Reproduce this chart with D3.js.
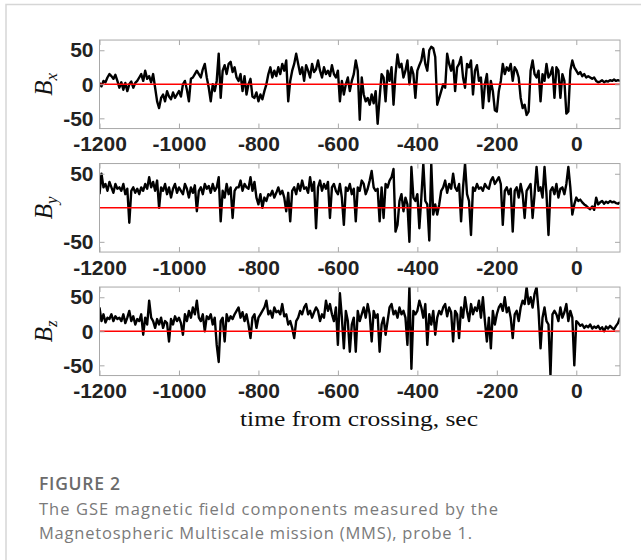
<!DOCTYPE html>
<html>
<head>
<meta charset="utf-8">
<script src="https://cdn.jsdelivr.net/npm/d3@7"></script>
<style>
  body { margin: 0; background: #fff; }
  svg { display: block; }
</style>
</head>
<body>
<div id="vis"></div>
<script>
// muestras cada 5 s desde -1200 s (nT)
const T0 = -1200;
const DT = 5;

const BX = [
  2, -3, 5, 3, 10, 15, 12, 8, 14, 5,
  -5, 3, -8, 2, -10, 0, 4, -5, 2, 5,
  10, 15, 5, 20, 8, 12, 3, 15, -5, -25,
  -35, -20, -15, -25, -10, -18, -22, -12, -20, -15,
  -10, -18, 0, 5, -8, -25, 8, 10, 15, 20,
  15, 10, 22, 30, 10, -5, -25, 0, -10, 5,
  45, -20, 20, 28, 15, 30, 33, 18, 25, 10,
  5, 15, -10, 12, -15, 0, 8, -18, -20, -12,
  -25, -15, -22, -10, 0, 15, 25, 10, 20, 12,
  25, 15, 30, 20, 35, -25, 5, 20, 30, 45,
  30, 15, 25, 5, 28, 20, 10, 30, 18, 22,
  35, 20, 10, 25, 15, 20, 12, 28, 15, 10,
  20, -25, 5, -15, 0, 10, -10, 5, 15, 35,
  20, -52, 10, -15, -25, -20, -30, -15, -28, -10,
  -58, -20, 15, 10, -25, 20, 5, 25, -30, 15,
  44, 25, 30, 10, 20, 35, 0, 25, 15, -20,
  20, 28, 35, 52, 30, 20, 50, 55, 53, 40,
  -30, -20, -10, 0, -5, 45, 30, 20, 35, -10,
  25, 30, 40, 10, -5, 30, 25, 35, -15, 20,
  28, 5, 10, -35, 0, 15, -25, 5, -10, -38,
  -40, -10, 5, 30, 15, 25, 20, 30, 5, 25,
  20, 10, -20, -35, -30, -45, -40, 20, 35, 15,
  10, 20, -25, 15, 5, 30, 10, 15, 25, -20,
  25, 20, -20, 15, 5, -43, -40, 20, 35, 25,
  20, 15, 18, 12, 15, 10, 12, 10, 8, 10,
  5, 3, 4, 6, 3, 5, 4, 6, 5, 7,
  5, 6, 5
];

const BY = [
  20, 50, 30, 35, 25, 38, 30, 22, 35, 28,
  30, 25, 35, 20, 28, -22, 25, 30, 22, 28,
  20, 30, 25, 35, 28, 45, 30, 38, 25, 40,
  0, 30, 25, 35, 20, 30, 15, 28, 35, 22,
  30, 25, 20, 35, 28, 15, 30, 22, 33, -5,
  25, 30, 20, 35, 28, 32, 22, 35, 25, 30,
  45, -20, 25, 15, 35, 20, 30, -15, 25, 30,
  30, 40, 25, 35, 30, 28, 45, 25, 38, 15,
  5, 20, 0, 15, 10, 20, 18, 25, 15, 22,
  30, 20, 25, 15, -5, 22, -20, 25, 30, 20,
  35, 25, 40, 28, 30, 22, 45, 25, 38, -30,
  30, 40, 25, 35, 28, 38, -15, 30, 35, 25,
  20, 35, 15, -25, 30, 25, 35, 20, 28, -20,
  30, 25, 40, 35, 20, 28, 40, 54, 30, 25,
  28, -20, 30, -15, 35, 30, 40, 45, 57, -35,
  -25, 10, 20, -5, 15, 5, -50, 60, 15, 10,
  20, -30, 15, 65, 10, 5, -48, 65, -10, 5,
  -10, 5, 25, 30, 40, 22, 35, 28, 50, 30,
  25, 35, -20, 30, 65, 20, 10, -40, 30, 25,
  35, 28, 30, 25, 35, 30, 28, 40, 45, 35,
  40, 45, 35, -25, 25, 30, 20, 28, -35, 25,
  30, 15, 35, 20, -15, 25, 30, 35, -15, 20,
  60, 25, 30, 15, 60, 20, -40, 25, 30, 20,
  35, 15, 28, 30, 20, 35, 60, 30, -10, 5,
  15, 10, 12, 8, 5, 3, 0, -2, 2, -3,
  15, 5, 8, 10, 6, 9, 7, 10, 8, 9,
  7, 6, 8
];

const BZ = [
  35, 15, 25, 13, 20, 18, 25, 15, 22, 18,
  20, 15, 25, 12, 20, 30, 15, 22, 10, 18,
  15, 25, -5, 20, 10, 45, 20, 15, 5, 18,
  10, 20, 5, 15, 12, -15, 18, 10, 22, 15,
  20, 12, -5, 25, 15, 30, 20, 35, 25, 45,
  20, 15, 25, 0, 22, 18, 25, 10, 20, -20,
  -45, 15, 20, -15, 25, 15, 22, 18, 25, 30,
  35, 20, 28, 15, 25, 10, -10, 20, 25, 5,
  20, 25, 30, 35, 45, 25, 30, 20, 35, 28,
  30, 25, 40, 22, 25, 10, 15, 5, -10, 15,
  20, 30, 25, 35, 40, 25, 30, 20, 28, 35,
  30, 15, 25, 20, 45, 30, 40, 25, 15, 35,
  -20, 56, 20, -25, 30, 15, -30, 10, 20, -30,
  30, 15, 25, 35, 20, 40, 25, -15, 30, 20,
  25, -30, 10, 20, -5, 15, 35, 40, 25, 30,
  20, 35, 25, 30, 20, -20, 65, -55, 30, 25,
  30, 45, 35, 20, 40, -20, 25, 10, 30, -5,
  20, 30, 25, 35, 40, 22, 35, 28, -15, 30,
  25, -10, 35, 20, 50, 30, 15, 40, 25, 35,
  30, 45, 20, 50, 15, -15, 20, -25, 30, 10,
  25, 35, 40, 30, 50, 28, 35, 20, -10, 25,
  30, 15, 35, 45, 40, 65, 40, 50, 35, 55,
  65, 30, -25, 20, 35, 15, 10, -65, 25, 30,
  25, 15, 35, 20, 28, 40, 15, 30, 20, -50,
  15, 12, 8, 10, 5, 8, 6, 10, 4, 7,
  5, 8, 3, 6, 0, 7, 4, 8, 5, 3,
  8, 12, 20
];

const COMPONENTS = ["x", "y", "z"];
const SERIES = [BX, BY, BZ];
const Y_TICKS = [[-50, 0, 50], [-50, 50], [-50, 0, 50]];
const X_TICKS = [-1200, -1000, -800, -600, -400, -200, 0];
const X_DOMAIN = [-1200, 110];
const Y_DOMAIN = [-65, 65];

const XLABEL = "time from crossing, sec";
const FIG_TITLE = "FIGURE 2";
const CAPTION = [
  "The GSE magnetic field components measured by the",
  "Magnetospheric Multiscale mission (MMS), probe 1."
];

const WIDTH = 641;
const HEIGHT = 560;
const PLOT_LEFT = 99.5;
const PLOT_RIGHT = 620;
const PANEL_CENTER = [84.3, 207.8, 331.3];
const PANEL_H = 88.5;

const SVG = d3.select("#vis").append("svg")
  .attr("width", WIDTH)
  .attr("height", HEIGHT);

// marco de la tarjeta
SVG.append("rect")
  .attr("x", 6).attr("y", 4.5)
  .attr("width", 700).attr("height", 700)
  .attr("fill", "none")
  .attr("stroke", "#d6d6d6")
  .attr("stroke-width", 1.5);

const escalaX = d3.scaleLinear().domain(X_DOMAIN).range([PLOT_LEFT, PLOT_RIGHT]);
const formato = d => String(d);

SERIES.forEach((valores, k) => {
  const top = PANEL_CENTER[k] - PANEL_H / 2;
  const escalaY = d3.scaleLinear().domain(Y_DOMAIN).range([top + PANEL_H, top]);
  const g = SVG.append("g");

  const clipId = "clip-" + k;
  SVG.append("clipPath").attr("id", clipId)
    .append("rect")
    .attr("x", PLOT_LEFT).attr("y", top)
    .attr("width", PLOT_RIGHT - PLOT_LEFT).attr("height", PANEL_H);

  // serie
  const linea = d3.line()
    .x((d, i) => escalaX(T0 + i * DT))
    .y(d => escalaY(d));

  g.append("path")
    .datum(valores)
    .attr("clip-path", `url(#${clipId})`)
    .attr("fill", "none")
    .attr("stroke", "#000")
    .attr("stroke-width", 2.4)
    .attr("stroke-linejoin", "round")
    .attr("d", linea);

  // linea roja en cero
  g.append("line")
    .attr("x1", PLOT_LEFT).attr("x2", PLOT_RIGHT)
    .attr("y1", escalaY(0)).attr("y2", escalaY(0))
    .attr("stroke", "#ff0000")
    .attr("stroke-width", 1.4);

  // caja
  g.append("rect")
    .attr("x", PLOT_LEFT).attr("y", top)
    .attr("width", PLOT_RIGHT - PLOT_LEFT).attr("height", PANEL_H)
    .attr("fill", "none")
    .attr("stroke", "#a8a8a8")
    .attr("stroke-width", 1);

  const estiloEje = sel => {
    sel.select(".domain").remove();
    sel.selectAll(".tick line").attr("stroke", "#a8a8a8");
    sel.selectAll("text")
      .attr("fill", "#222")
      .style("font-family", "'Liberation Sans', Arial, Helvetica, sans-serif")
      .style("font-weight", "bold")
      .style("font-size", "21px");
  };

  g.append("g")
    .attr("transform", `translate(0,${top + PANEL_H})`)
    .call(d3.axisBottom(escalaX).tickValues(X_TICKS).tickFormat(formato)
      .tickSizeInner(-5).tickSizeOuter(0).tickPadding(8))
    .call(estiloEje);

  g.append("g")
    .attr("transform", `translate(0,${top})`)
    .call(d3.axisTop(escalaX).tickValues(X_TICKS).tickSizeInner(-5).tickSizeOuter(0).tickFormat(""))
    .call(estiloEje);

  g.append("g")
    .attr("transform", `translate(${PLOT_LEFT},0)`)
    .call(d3.axisLeft(escalaY).tickValues(Y_TICKS[k]).tickFormat(formato)
      .tickSizeInner(-5).tickSizeOuter(0).tickPadding(6))
    .call(estiloEje);

  g.append("g")
    .attr("transform", `translate(${PLOT_RIGHT},0)`)
    .call(d3.axisRight(escalaY).tickValues(Y_TICKS[k]).tickSizeInner(-5).tickSizeOuter(0).tickFormat(""))
    .call(estiloEje);

  // etiqueta B_x, B_y, B_z
  const cy = PANEL_CENTER[k];
  const etiqueta = g.append("text")
    .attr("transform", `translate(52,${cy}) rotate(-90)`)
    .attr("text-anchor", "middle")
    .style("font-family", "'Liberation Serif', 'Times New Roman', serif")
    .style("font-style", "italic")
    .style("font-size", "25px")
    .attr("fill", "#111");
  etiqueta.append("tspan").text("B");
  etiqueta.append("tspan").attr("dy", 5).style("font-size", "17px").text(COMPONENTS[k]);
});

SVG.append("text")
  .attr("x", 359).attr("y", 426)
  .attr("text-anchor", "middle")
  .attr("textLength", 238)
  .attr("lengthAdjust", "spacingAndGlyphs")
  .style("font-family", "'Liberation Serif', 'Times New Roman', serif")
  .style("font-size", "22px")
  .attr("fill", "#111")
  .text(XLABEL);

SVG.append("text")
  .attr("x", 39).attr("y", 490)
  .attr("textLength", 81)
  .style("font-family", "'Open Sans', sans-serif")
  .style("font-weight", "600")
  .style("font-size", "17.5px")
  .attr("fill", "#6b6b6b")
  .text(FIG_TITLE);

SVG.selectAll("text.caption")
  .data(CAPTION)
  .join("text")
  .attr("class", "caption")
  .attr("x", 39)
  .attr("y", (d, i) => 514.5 + i * 24)
  .attr("textLength", (d, i) => i === 0 ? 459 : 433)
  .style("font-family", "'Open Sans', sans-serif")
  .style("font-size", "16.5px")
  .attr("fill", "#7a7a7a")
  .text(d => d);
</script>
</body>
</html>
